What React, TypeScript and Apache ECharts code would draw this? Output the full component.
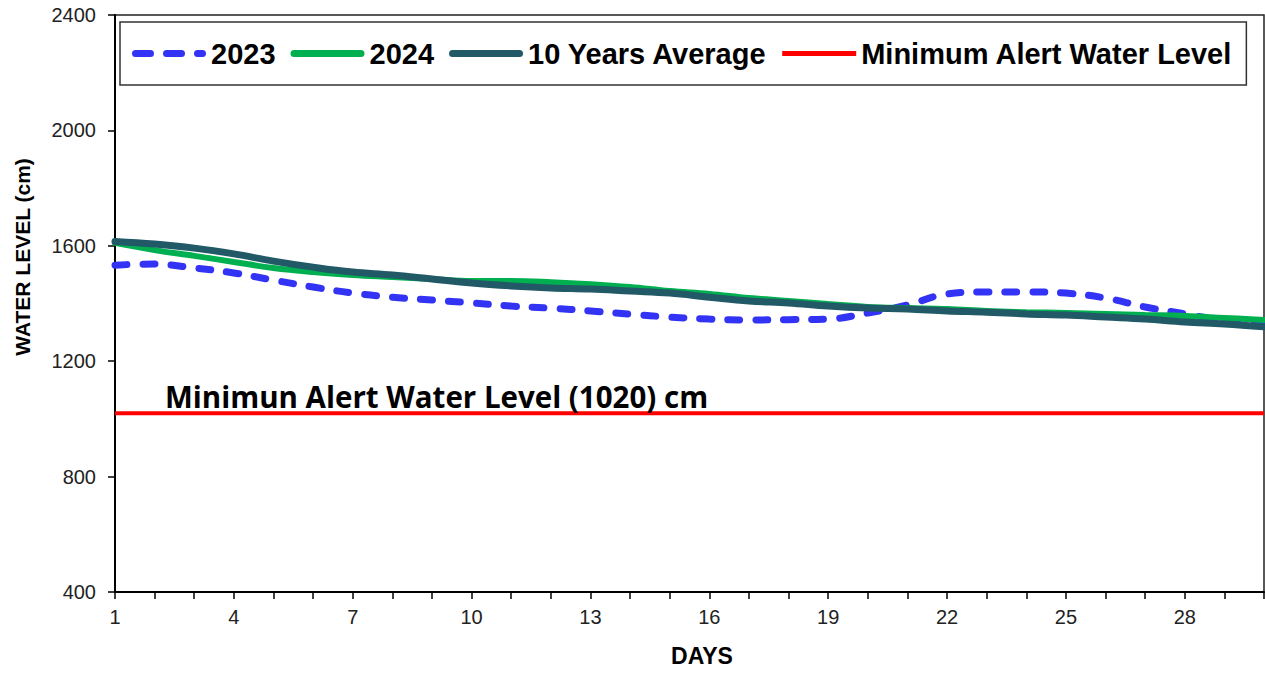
import React, { useEffect, useRef } from "react";
import * as echarts from "echarts";

const days = Array.from({ length: 30 }, (_, i) => String(i + 1));

const series2023 = [
  1533, 1537, 1523, 1506, 1481, 1457, 1436, 1422, 1412, 1402,
  1391, 1384, 1374, 1363, 1353, 1346, 1343, 1344, 1346, 1367,
  1395, 1433, 1440, 1440, 1436, 1419, 1388, 1364, 1340, 1325,
];
const series2024 = [
  1610, 1585, 1565, 1544, 1523, 1509, 1499, 1492, 1485, 1478,
  1478, 1474, 1467, 1457, 1443, 1433, 1419, 1409, 1398, 1388,
  1384, 1381, 1374, 1370, 1367, 1364, 1360, 1357, 1350, 1343,
];
const series10yr = [
  1615, 1606, 1592, 1572, 1547, 1526, 1509, 1499, 1485, 1471,
  1461, 1454, 1450, 1443, 1436, 1422, 1409, 1402, 1391, 1384,
  1381, 1374, 1370, 1364, 1360, 1353, 1346, 1336, 1329, 1319,
];
const minAlertLevel = 1020;
const seriesMinAlert = days.map(() => minAlertLevel);

const seriesNames = ["2023", "2024", "10 Years Average", "Minimum Alert Water Level"];
const seriesColors = ["#3333F5", "#00B050", "#215967", "#FF0000"];
const yAxisName = "WATER LEVEL (cm)";
const xAxisName = "DAYS";
const alertLabel = "Minimun Alert Water Level (1020) cm";

const capsule = (x0: number, x1: number) =>
  `M${x0 + 3.5},0 H${x1 - 3.5} A3.5,3.5 0 0 1 ${x1 - 3.5},7 H${x0 + 3.5} A3.5,3.5 0 0 1 ${x0 + 3.5},0 Z`;
const dashedIcon = "path://" + capsule(0, 22) + " " + capsule(31, 53) + " " + capsule(62, 74);
const solidIcon = "path://" + capsule(0, 74);
const redIcon = "path://M0,1 H74 V6 H0 Z";

export default function App() {
  const ref = useRef<HTMLDivElement>(null);
  useEffect(() => {
    if (!ref.current) return;
    const chart = echarts.init(ref.current, undefined, { renderer: "svg" });
    const font = "'Liberation Sans', Arial, sans-serif";
    const icons = [dashedIcon, solidIcon, solidIcon, redIcon];
    chart.setOption({
      animation: false,
      backgroundColor: "#ffffff",
      grid: {
        left: 115,
        right: 1,
        top: 15,
        bottom: 81,
        show: true,
        borderColor: "#222",
        borderWidth: 1.5,
        backgroundColor: "transparent",
      },
      legend: {
        left: 120,
        top: 22,
        padding: [17, 14, 17, 12],
        borderColor: "#333",
        borderWidth: 1.5,
        itemWidth: 74,
        itemHeight: 7,
        itemGap: 15,
        textStyle: { fontFamily: font, fontWeight: "bold", fontSize: 29, color: "#000" },
        data: seriesNames.map((name, i) => ({
          name,
          icon: icons[i],
          itemStyle: { color: seriesColors[i], borderWidth: 0 },
        })),
      },
      xAxis: {
        type: "category",
        data: days,
        boundaryGap: false,
        axisLine: { lineStyle: { color: "#000", width: 2 } },
        axisTick: { show: true, interval: 0, length: 7, lineStyle: { color: "#000", width: 1.5 } },
        axisLabel: { interval: 2, margin: 15, fontFamily: font, fontSize: 20, color: "#222" },
        splitLine: { show: false },
      },
      yAxis: {
        type: "value",
        min: 400,
        max: 2400,
        interval: 400,
        axisLine: { show: true, lineStyle: { color: "#000", width: 2 } },
        axisTick: { show: true, length: 7, lineStyle: { color: "#000", width: 1.5 } },
        axisLabel: {
          margin: 19,
          fontFamily: font,
          fontSize: 20,
          color: "#222",
          formatter: (v: number) => String(v),
        },
        splitLine: { show: false },
      },
      graphic: [
        {
          type: "text",
          x: 22,
          y: 257,
          rotation: Math.PI / 2,
          style: {
            text: yAxisName,
            fontFamily: font,
            fontWeight: "bold",
            fontSize: 21,
            fill: "#000",
            align: "center",
            verticalAlign: "middle",
          },
        },
        {
          type: "text",
          x: 702,
          y: 656,
          style: {
            text: xAxisName,
            fontFamily: font,
            fontWeight: "bold",
            fontSize: 23,
            fill: "#000",
            align: "center",
            verticalAlign: "middle",
          },
        },
        {
          type: "text",
          x: 165,
          y: 396,
          z: 100,
          style: {
            text: alertLabel,
            fontFamily: "'Open Sans', Lato, sans-serif",
            fontWeight: "bold",
            fontSize: 29.5,
            fill: "#000",
            align: "left",
            verticalAlign: "middle",
          },
        },
      ],
      series: [
        {
          name: seriesNames[0],
          type: "line",
          data: series2023,
          smooth: 0.4,
          showSymbol: false,
          symbol: "none",
          z: 2,
          itemStyle: { color: seriesColors[0] },
          lineStyle: { color: seriesColors[0], width: 7, type: [12, 16], cap: "round" },
        },
        {
          name: seriesNames[1],
          type: "line",
          data: series2024,
          smooth: 0.4,
          showSymbol: false,
          symbol: "none",
          z: 3,
          itemStyle: { color: seriesColors[1] },
          lineStyle: { color: seriesColors[1], width: 6, cap: "round" },
        },
        {
          name: seriesNames[2],
          type: "line",
          data: series10yr,
          smooth: 0.4,
          showSymbol: false,
          symbol: "none",
          z: 4,
          itemStyle: { color: seriesColors[2] },
          lineStyle: { color: seriesColors[2], width: 7, cap: "round" },
        },
        {
          name: seriesNames[3],
          type: "line",
          data: seriesMinAlert,
          showSymbol: false,
          symbol: "none",
          z: 5,
          itemStyle: { color: seriesColors[3] },
          lineStyle: { color: seriesColors[3], width: 4 },
        },
      ],
    });
    return () => chart.dispose();
  }, []);
  return (
    <div
      ref={ref}
      style={{ position: "absolute", left: 0, top: 0, width: 1265, height: 673, background: "#fff" }}
    />
  );
}
